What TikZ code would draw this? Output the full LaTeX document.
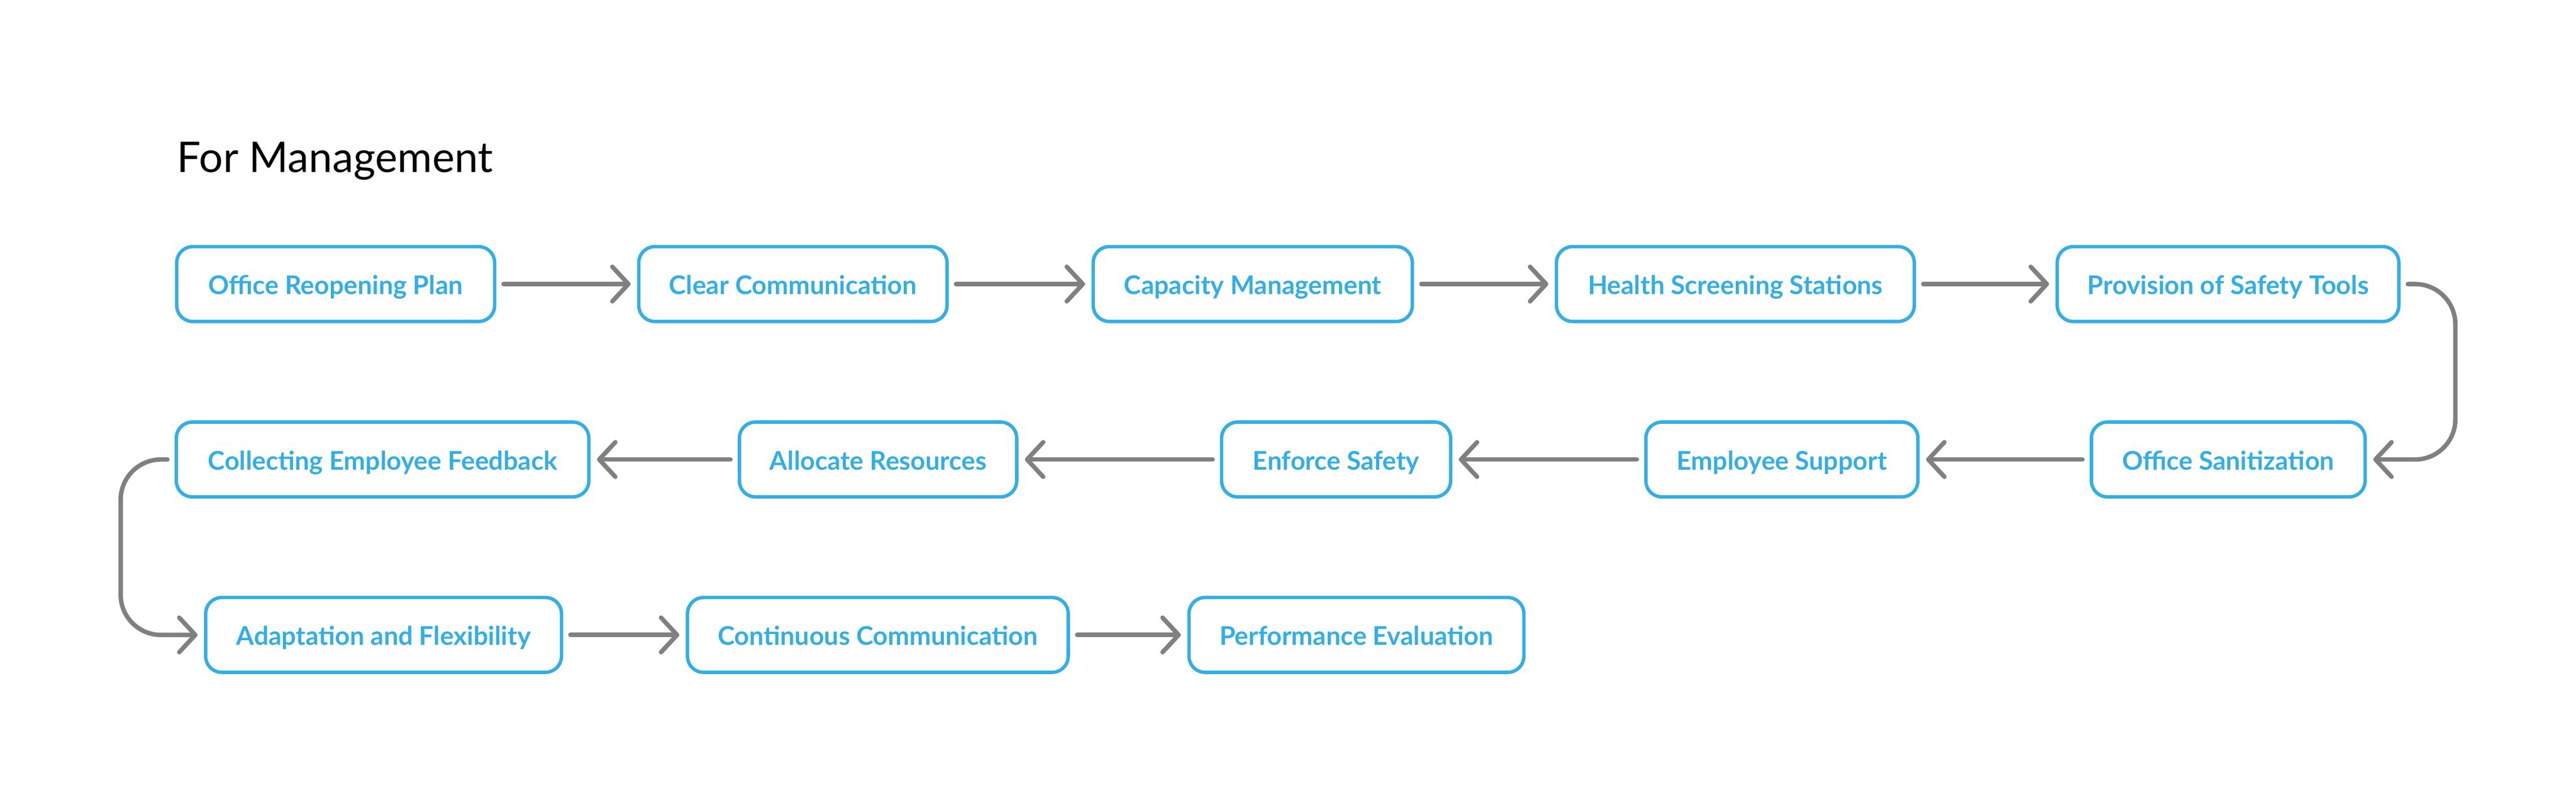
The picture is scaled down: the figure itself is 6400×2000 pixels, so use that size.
\documentclass[tikz,border=0pt]{standalone}
\usepackage{fontspec}
\setmainfont{Lato}
\usetikzlibrary{arrows.meta}
\definecolor{boxblue}{RGB}{52,174,228}
\definecolor{conngray}{RGB}{128,128,128}
\tikzset{
  stepbox/.style={draw=boxblue, line width=0.85pt, rounded corners=4pt,
    minimum height=18.6pt, inner sep=0pt, text height=5.1pt, text depth=0pt,
    text=boxblue, font=\bfseries\fontsize{6.4}{7}\selectfont},
  conn/.style={draw=conngray, line width=1.1pt, line cap=round,
    -{Straight Barb[length=4pt,width=8.6pt,line cap=round,line join=round]},
    shorten <=1.8pt, shorten >=1.6pt},
}
\begin{document}
\begin{tikzpicture}[x=0.1pt,y=-0.1pt]
\path[fill=white, use as bounding box] (0,0) rectangle (6400,2000);
\node[anchor=base west, inner sep=0pt, font=\fontsize{10.5}{12}\selectfont] (title) at (438,428) {For Management};
% row 1
\node[stepbox, minimum width=79pt]   (n1)  at (834,706)    {Office Reopening Plan};
\node[stepbox, minimum width=76.6pt] (n2)  at (1970,706)   {Clear Communication};
\node[stepbox, minimum width=79.3pt] (n3)  at (3112.5,706) {Capacity Management};
\node[stepbox, minimum width=88.9pt] (n4)  at (4311.5,706) {Health Screening Stations};
\node[stepbox, minimum width=84.9pt] (n5)  at (5535.5,706) {Provision of Safety Tools};
% row 2
\node[stepbox, minimum width=68pt]   (n6)  at (5536,1142)   {Office Sanitization};
\node[stepbox, minimum width=67.6pt] (n7)  at (4427,1142)   {Employee Support};
\node[stepbox, minimum width=56.9pt] (n8)  at (3319.5,1142) {Enforce Safety};
\node[stepbox, minimum width=68.9pt] (n9)  at (2181.5,1142) {Allocate Resources};
\node[stepbox, minimum width=102.5pt] (n10) at (950.5,1142) {Collecting Employee Feedback};
% row 3
\node[stepbox, minimum width=88.4pt] (n11) at (953,1578)  {Adaptation and Flexibility};
\node[stepbox, minimum width=94.6pt] (n12) at (2181,1578) {Continuous Communication};
\node[stepbox, minimum width=83.2pt] (n13) at (3370,1578) {Performance Evaluation};
% connectors
\draw[conn] (n1) -- (n2);
\draw[conn] (n2) -- (n3);
\draw[conn] (n3) -- (n4);
\draw[conn] (n4) -- (n5);
\draw[conn, rounded corners=10pt] (n5.east) -- ([xshift=13.6pt]n5.east) |- (n6.east);
\draw[conn] (n6) -- (n7);
\draw[conn] (n7) -- (n8);
\draw[conn] (n8) -- (n9);
\draw[conn] (n9) -- (n10);
\draw[conn, rounded corners=10pt] (n10.west) -- ([xshift=-13.4pt]n10.west) |- (n11.west);
\draw[conn] (n11) -- (n12);
\draw[conn] (n12) -- (n13);
\end{tikzpicture}
\end{document}
